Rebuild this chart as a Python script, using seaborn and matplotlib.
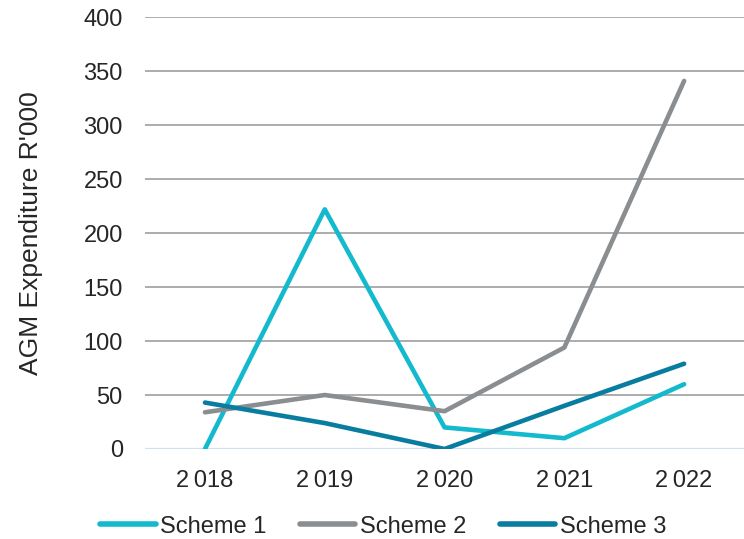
import matplotlib
matplotlib.use("Agg")
import matplotlib.pyplot as plt
import seaborn as sns
import pandas as pd

years = ["2\u2009018", "2\u2009019", "2\u2009020", "2\u2009021", "2\u2009022"]
scheme1 = [0, 222, 20, 10, 60]
scheme2 = [34, 50, 35, 94, 341]
scheme3 = [43, 24, 0, 40, 79]
series_names = ["Scheme 1", "Scheme 2", "Scheme 3"]
colors = ["#13B9CD", "#8A8E91", "#087DA0"]

df = pd.DataFrame({
    "Year": years * 3,
    "Value": scheme1 + scheme2 + scheme3,
    "Series": [series_names[0]] * 5 + [series_names[1]] * 5 + [series_names[2]] * 5,
})

sns.set_theme(style="white")
plt.rcParams["font.family"] = ["Liberation Sans", "DejaVu Sans"]

fig = plt.figure(figsize=(7.44, 5.39), dpi=100)
ax = fig.add_axes([0.195, 0.167, 0.805, 0.801])

sns.lineplot(data=df, x="Year", y="Value", hue="Series", palette=colors,
             linewidth=3.3, ax=ax, sort=False, legend=True)
for ln in ax.lines:
    ln.set_solid_capstyle("round")

ax.set_xlim(-0.5, 4.5)
ax.set_ylim(0, 400)
ax.set_yticks(range(0, 401, 50))
ax.yaxis.grid(True, color="#A6A6A6", linewidth=1.3)
ax.set_axisbelow(True)
for s in ax.spines.values():
    s.set_visible(False)
ax.axhline(0, color="#C9E3F2", linewidth=1.6, zorder=1)
ax.tick_params(axis="both", length=0, labelsize=17, colors="#262626")
ax.tick_params(axis="x", pad=15)
ax.tick_params(axis="y", pad=16)
ax.set_xlabel("")
ax.set_ylabel("AGM Expenditure R'000", fontsize=19, color="#262626", labelpad=29)

leg = ax.legend(loc="center", bbox_to_anchor=(0.515, 0.023), bbox_transform=fig.transFigure,
                ncol=3, frameon=False, fontsize=17, handlelength=2.35,
                handletextpad=0.2, columnspacing=1.4, labelcolor="#262626")
for h in leg.get_lines():
    h.set_linewidth(4)
    h.set_solid_capstyle("round")

fig.savefig("out.png", dpi=100)
